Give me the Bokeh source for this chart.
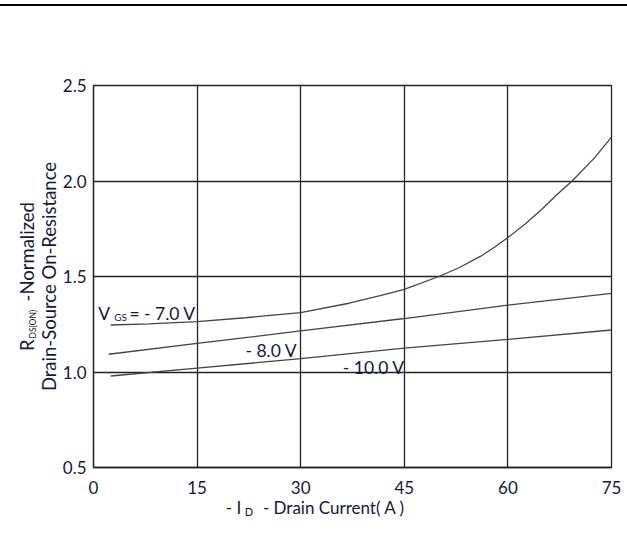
import math
from bokeh.plotting import figure
from bokeh.models import Range1d, Label, FixedTicker, PrintfTickFormatter
from bokeh.embed import file_html
from bokeh.resources import INLINE

# ---- data ----
x_ticks = [0, 15, 30, 45, 60, 75]
y_ticks = [0.5, 1.0, 1.5, 2.0, 2.5]

id_vgs7 = [2.5, 8, 15, 22, 30, 37, 41.5, 45, 50, 53, 56, 58, 60, 62.5, 65, 67, 69.3, 72.5, 75]
r_vgs7 = [1.246, 1.252, 1.264, 1.284, 1.311, 1.36, 1.40, 1.433, 1.50, 1.547, 1.605,
          1.652, 1.704, 1.775, 1.855, 1.925, 2.0, 2.12, 2.23]

id_vgs8 = [2.2, 15, 30, 45, 60, 75]
r_vgs8 = [1.093, 1.15, 1.215, 1.28, 1.35, 1.412]

id_vgs10 = [2.5, 15, 30, 45, 60, 75]
r_vgs10 = [0.979, 1.02, 1.07, 1.125, 1.171, 1.22]

NB = "\u00a0"
x_title = "- I" + NB * 5 + "- Drain Current( A )" + NB * 17
y_title = "R" + NB * 8 + "-Normalized\nDrain-Source On-Resistance"

FONT = "Lato"
TXT = "#15183a"

p = figure(width=627, height=539, output_backend="svg", toolbar_location=None,
           x_range=Range1d(0, 75), y_range=Range1d(0.5, 2.5),
           min_border_left=93, min_border_right=16, min_border_top=79, min_border_bottom=78)

p.styles = {"border-top": "2px solid black", "margin-top": "4px"}

for ax in (p.xaxis[0], p.yaxis[0]):
    ax.major_tick_line_color = None
    ax.minor_tick_line_color = None
    ax.axis_line_color = "#222222"
    ax.axis_line_width = 1.3
    ax.major_label_text_font = FONT
    ax.major_label_text_font_size = "17px"
    ax.major_label_text_color = TXT
    ax.axis_label_text_font = FONT
    ax.axis_label_text_font_style = "normal"
    ax.axis_label_text_color = TXT

p.xaxis.axis_label = x_title
p.yaxis.axis_label = y_title
p.xaxis.axis_label_text_font_size = "17px"
p.xaxis.axis_label_standoff = 0
p.yaxis.axis_label_text_font_size = "18.5px"
p.yaxis.axis_label_text_line_height = 1.0
p.yaxis.axis_label_standoff = 0

p.xaxis.ticker = FixedTicker(ticks=x_ticks)
p.yaxis.ticker = FixedTicker(ticks=y_ticks)
p.yaxis.formatter = PrintfTickFormatter(format="%.1f")
p.xaxis.major_label_standoff = 7
p.yaxis.major_label_standoff = 1

p.xgrid.ticker = FixedTicker(ticks=x_ticks)
p.ygrid.ticker = FixedTicker(ticks=y_ticks)
for g in (p.xgrid[0], p.ygrid[0]):
    g.grid_line_color = "#222222"
    g.grid_line_width = 1.3
p.outline_line_color = "#222222"
p.outline_line_width = 1.3
p.outline_line_alpha = 1

for xs, ys in ((id_vgs7, r_vgs7), (id_vgs8, r_vgs8), (id_vgs10, r_vgs10)):
    p.line(xs, ys, line_color="#444444", line_width=1.3)


def lab(x, y, text, size, angle=0.0, place=None):
    l = Label(x=x, y=y, text=text, text_font=FONT, text_font_size=size,
              text_color=TXT, text_align="left", text_baseline="alphabetic", angle=angle)
    if place is None:
        p.add_layout(l)
    else:
        p.add_layout(l, place)

# curve labels
lab(0.7, 1.304, "V", "17.5px")
lab(3.0, 1.287, "GS", "10px")
lab(5.2, 1.304, "= - 7.0 V", "17.5px")
lab(22.0, 1.11, "- 8.0 V", "17.5px")
lab(36.1, 1.021, "- 10.0 V", "17.5px")

# subscripts of the axis titles (placed in side panels so they are not clipped)
lab(21.9, 0.268, "D", "11px", place="below")
lab(-8.75, 1.175, "DS(ON)", "8.5px", math.pi / 2, place="left")

open("out.html", "w").write(file_html(p, INLINE))
